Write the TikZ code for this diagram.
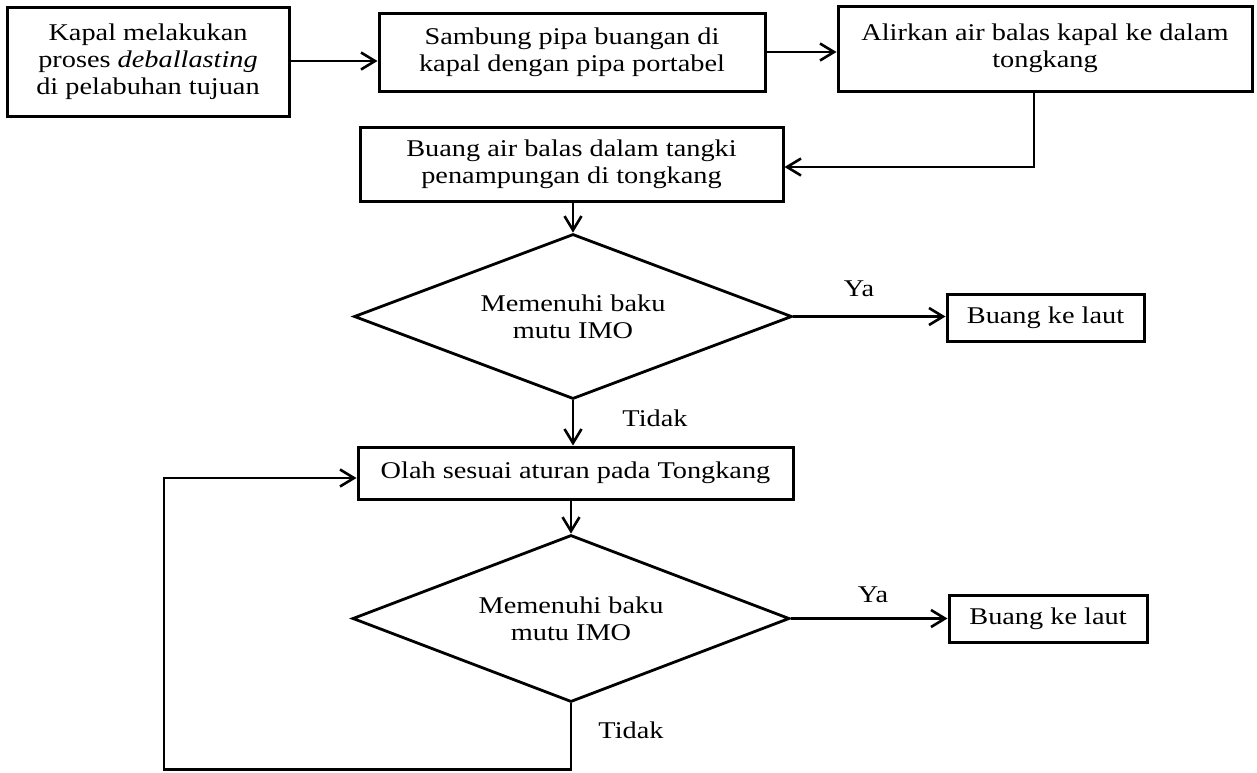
\documentclass[tikz,border=0pt]{standalone}
\usepackage{fontspec}
\setmainfont{Liberation Serif}[FakeStretch=1.18]
\usetikzlibrary{arrows.meta,shapes.geometric}
\begin{document}
\begin{tikzpicture}[x=1pt,y=-1pt,
  txt/.style={font=\fontsize{24}{27}\selectfont},
  box/.style={txt, draw, line width=3pt, align=center, inner sep=0pt},
  dec/.style={txt, diamond, draw, line width=2.8pt, align=center, inner sep=0pt, aspect=2.65},
  conn/.style={line width=2.6pt, -{Straight Barb[length=14pt,width=17pt,line width=2.6pt]}},
  plain/.style={line width=2.6pt}
]
\useasboundingbox (0,0) rectangle (1257,772);
\node[box, minimum width=282pt, minimum height=109pt] (b1) at (148,61.5)
  {Kapal melakukan\\proses \textit{deballasting}\\di pelabuhan tujuan};
\node[box, minimum width=386pt, minimum height=78pt] (b2) at (572,52)
  {Sambung pipa buangan di\\kapal dengan pipa portabel};
\node[box, minimum width=414pt, minimum height=85pt] (b3) at (1045,48.5)
  {Alirkan air balas kapal ke dalam\\tongkang};
\node[box, minimum width=423pt, minimum height=74pt] (b4) at (571.5,164)
  {Buang air balas dalam tangki\\penampungan di tongkang};
\node[dec, minimum width=438pt, minimum height=165pt] (d1) at (573,316.5)
  {Memenuhi baku\\mutu IMO};
\node[box, minimum width=197pt, minimum height=47pt] (y1) at (1045.5,317.5)
  {Buang ke laut};
\node[box, minimum width=435pt, minimum height=52pt] (ol) at (575.5,473)
  {Olah sesuai aturan pada Tongkang};
\node[dec, minimum width=437pt, minimum height=167pt] (d2) at (571,618.5)
  {Memenuhi baku\\mutu IMO};
\node[box, minimum width=198pt, minimum height=47pt] (y2) at (1048,618.5)
  {Buang ke laut};
\node[txt] (ya1) at (859,289) {Ya};
\node[txt] (ya2) at (873,595) {Ya};
\node[txt] (td1) at (655,418) {Tidak};
\node[txt] (td2) at (631,730) {Tidak};
\coordinate (t3) at (1034,167);
\coordinate (c1) at (164,769.5);
\coordinate (c2) at (164,478);
\draw[conn] (b1.east |- 0,61) -- (b2.west |- 0,61);
\draw[conn] (b2.east) -- (b2.east -| b3.west);
\draw[conn] (t3 |- b3.south) -- (t3) -- (t3 -| b4.east);
\draw[conn] (b4.south -| d1.north) -- (d1.north);
\draw[conn] (d1.east) -- (d1.east -| y1.west);
\draw[conn] (d1.south) -- (d1.south |- ol.north);
\draw[conn] (ol.south -| d2.north) -- (d2.north);
\draw[conn] (d2.east) -- (d2.east -| y2.west);
\draw[conn] (d2.south) |- (c1) -- (c2) -- (c2 -| ol.west);
\end{tikzpicture}
\end{document}
